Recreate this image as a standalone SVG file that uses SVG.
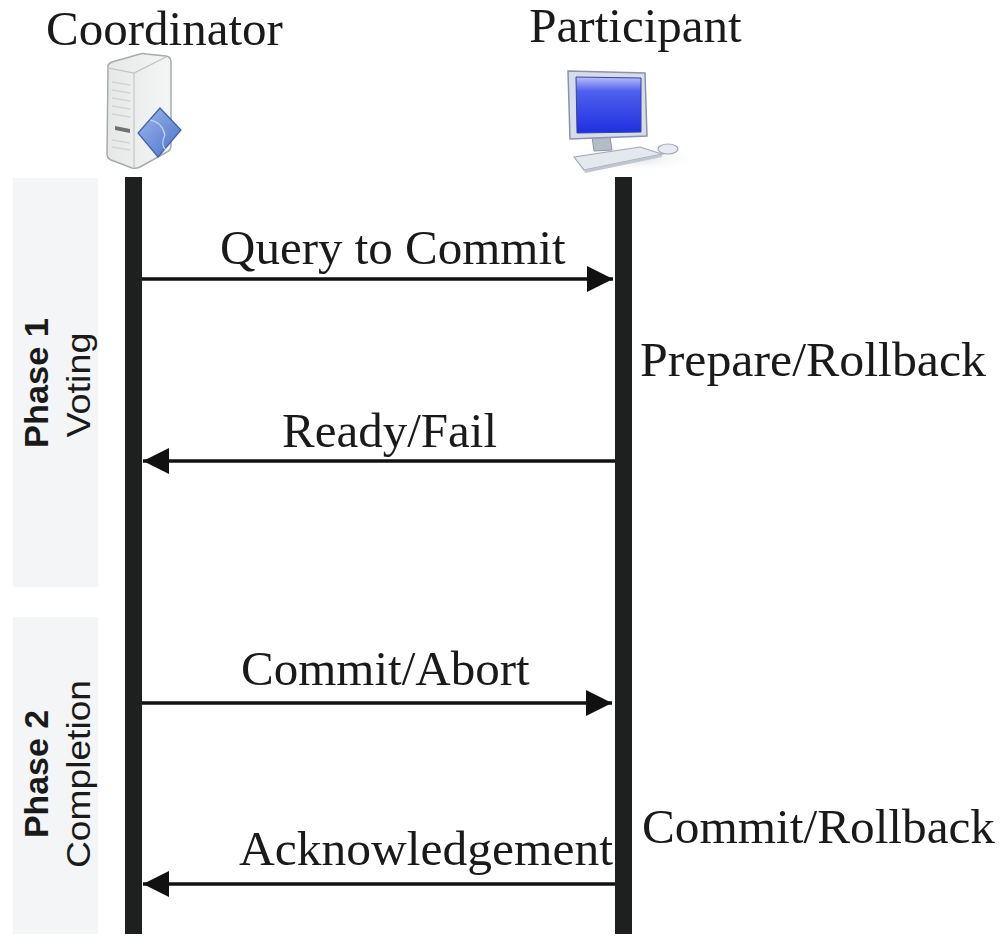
<svg xmlns="http://www.w3.org/2000/svg" width="1000" height="938" viewBox="0 0 1000 938">
<style>
.lbl{font-family:"Liberation Serif","Times New Roman",serif;font-size:49px;fill:#1a1a1a}
.ph{font-family:"Liberation Sans",Arial,sans-serif;font-size:33px;fill:#1a1a1a}
.phb{font-weight:bold}
.box{fill:#f4f5f6}
.life{fill:#1e2020}
.msg{stroke:#111;stroke-width:3.5;fill:none}
</style>
<defs>
<marker id="ah" viewBox="0 0 26 26" refX="26" refY="13" markerWidth="26" markerHeight="26" markerUnits="userSpaceOnUse" orient="auto">
<path d="M0,0 L26,13 L0,26 z" fill="#111"/>
</marker>
<linearGradient id="scr" x1="0" y1="0" x2="0" y2="1">
<stop offset="0" stop-color="#b8c0f8"/>
<stop offset="0.25" stop-color="#5060ee"/>
<stop offset="1" stop-color="#1e30e0"/>
</linearGradient>
<linearGradient id="dia" x1="0" y1="0" x2="1" y2="1">
<stop offset="0" stop-color="#9fb8ec"/>
<stop offset="1" stop-color="#4a6fc8"/>
</linearGradient>
<linearGradient id="srv" x1="0" y1="0" x2="1" y2="0">
<stop offset="0" stop-color="#e6e8e8"/>
<stop offset="1" stop-color="#f4f5f5"/>
</linearGradient>
<radialGradient id="shadow" cx="0.5" cy="0.5" r="0.5">
<stop offset="0" stop-color="#d8dadc"/>
<stop offset="1" stop-color="#ffffff" stop-opacity="0"/>
</radialGradient>
</defs>
<rect width="1000" height="938" fill="#ffffff"/>

<g id="phase1">
<rect class="box" x="13" y="178" width="85" height="409"/>
<text class="ph phb" transform="translate(48,383) rotate(-90)" text-anchor="middle" textLength="130" lengthAdjust="spacingAndGlyphs">Phase 1</text>
<text class="ph" transform="translate(90,385) rotate(-90)" text-anchor="middle" textLength="105" lengthAdjust="spacingAndGlyphs">Voting</text>
</g>

<g id="phase2">
<rect class="box" x="13" y="617" width="85" height="317"/>
<text class="ph phb" transform="translate(48,774) rotate(-90)" text-anchor="middle" textLength="128" lengthAdjust="spacingAndGlyphs">Phase 2</text>
<text class="ph" transform="translate(90,774) rotate(-90)" text-anchor="middle" textLength="188" lengthAdjust="spacingAndGlyphs">Completion</text>
</g>

<g id="coordinator">
<text class="lbl" x="164.5" y="45" text-anchor="middle">Coordinator</text>
<g id="server-icon">
<path d="M108,68 Q107,64 112,62 L140,54 Q143,53 146,54 L166,56 Q171,57 171,62 L171,146 Q171,150 167,152 L140,167 Q136,169 132,168 L111,160 Q107,158 107,154 Z" fill="url(#srv)" stroke="#a8abab" stroke-width="1.5"/>
<path d="M108,68 L134,73 L166,57" fill="none" stroke="#bfc2c2" stroke-width="1.2"/>
<path d="M134,73 L134,167" stroke="#c4c6c6" stroke-width="1.2"/>
<g stroke="#d2d4d4" stroke-width="1.5">
<line x1="112" y1="82" x2="130" y2="85"/>
<line x1="112" y1="90" x2="130" y2="93"/>
<line x1="112" y1="98" x2="130" y2="101"/>
<line x1="112" y1="106" x2="130" y2="109"/>
<line x1="112" y1="114" x2="130" y2="117"/>
<line x1="112" y1="140" x2="130" y2="143"/>
<line x1="112" y1="147" x2="130" y2="150"/>
</g>
<path d="M115,126 L130,129 L130,133 L115,130 Z" fill="#6e7272"/>
<path d="M160,108 L181,130 L158,157 L138,133 Z" fill="url(#dia)" stroke="#4060a8" stroke-width="1.2"/>
<path d="M150,120 Q162,122 165,135 Q160,145 166,150" fill="none" stroke="#d8e4f8" stroke-width="1.2" opacity="0.8"/>
</g>
<rect class="life" x="125" y="177" width="17" height="757"/>
</g>

<g id="participant">
<text class="lbl" x="635.5" y="42" text-anchor="middle">Participant</text>
<g id="computer-icon">
<ellipse cx="630" cy="158" rx="70" ry="14" fill="url(#shadow)"/>
<path d="M592,137 L610,137 L612,150 L594,151 Z" fill="#b4bcc8" stroke="#8c96a4" stroke-width="1"/>
<path d="M568,71 L645,73 L647,136 L570,139 Z" fill="#d6dcea" stroke="#8a94a8" stroke-width="1.5"/>
<path d="M576,77 L641,78 L641,132 L577,133 Z" fill="url(#scr)" stroke="#3844a0" stroke-width="1"/>
<path d="M574,157 L640,147 L662,154 L584,170 Z" fill="#e4e8ef" stroke="#a0a8b6" stroke-width="1.2"/>
<path d="M584,170 L662,154 L662,157 L585,173 Z" fill="#c0c6d0"/>
<ellipse cx="668" cy="149" rx="10" ry="5" fill="#e8ecf2" stroke="#a0a8b6" stroke-width="1.2"/>
</g>
<rect class="life" x="615" y="177" width="17" height="757"/>
</g>

<g id="connectors">
<line class="msg" x1="142" y1="279" x2="613" y2="279" marker-end="url(#ah)"/>
<line class="msg" x1="615" y1="461" x2="143" y2="461" marker-end="url(#ah)"/>
<line class="msg" x1="142" y1="703" x2="612" y2="703" marker-end="url(#ah)"/>
<line class="msg" x1="615" y1="884" x2="143" y2="884" marker-end="url(#ah)"/>
</g>

<g id="labels">
<text class="lbl" x="220" y="264">Query to Commit</text>
<text class="lbl" x="640" y="376" textLength="346" lengthAdjust="spacingAndGlyphs">Prepare/Rollback</text>
<text class="lbl" x="282" y="447">Ready/Fail</text>
<text class="lbl" x="241" y="685">Commit/Abort</text>
<text class="lbl" x="642" y="843" textLength="353" lengthAdjust="spacingAndGlyphs">Commit/Rollback</text>
<text class="lbl" x="239" y="865" textLength="374" lengthAdjust="spacingAndGlyphs">Acknowledgement</text>
</g>
</svg>
